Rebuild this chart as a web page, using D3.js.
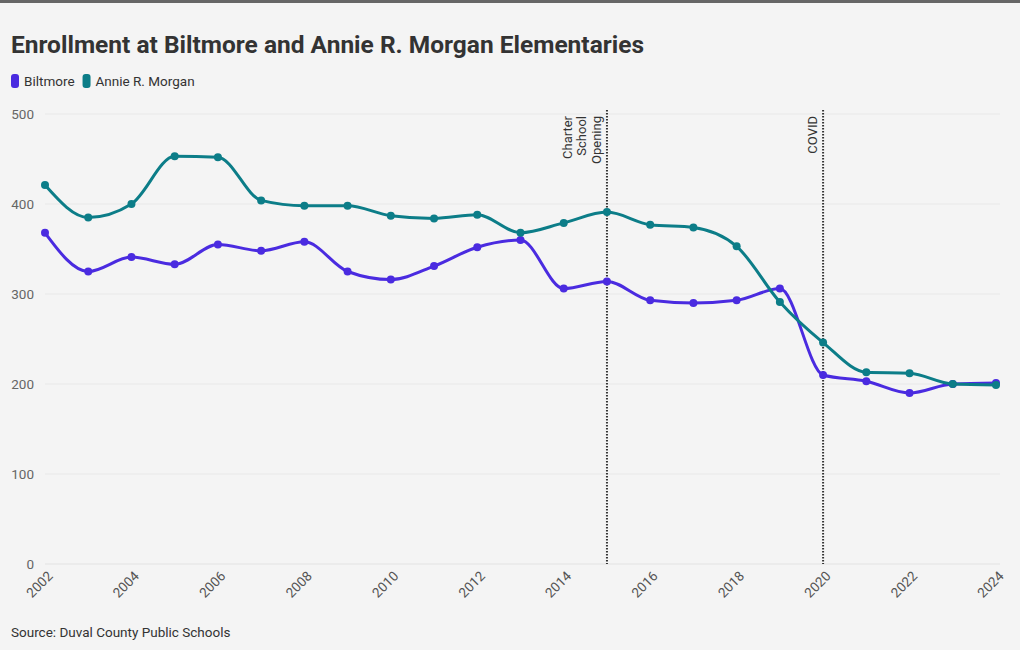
<!DOCTYPE html>
<html><head><meta charset="utf-8">
<script src="https://cdn.jsdelivr.net/npm/d3@7"></script>
<style>
html,body{margin:0;padding:0;background:#f4f4f4;}
svg{display:block;font-family:Roboto,"Noto Sans",sans-serif;}
</style></head>
<body><svg id="c" width="1020" height="650"></svg>
<script>
const years = [2002,2003,2004,2005,2006,2007,2008,2009,2010,2011,2012,2013,2014,2015,2016,2017,2018,2019,2020,2021,2022,2023,2024];
const biltmore = [368,325,341,333,355,348,358,325,316,331,352,360,306,314,293,290,293,306,210,203,190,200,201];
const morgan = [421,385,400,453,452,404,398,398,387,384,388,368,379,391,377,374,353,291,246,213,212,200,199];
const seriesNames = ["Biltmore","Annie R. Morgan"];
const seriesColors = ["#4a2be0","#0c7d88"];
const yTicks = [0,100,200,300,400,500];
const xTicks = [2002,2004,2006,2008,2010,2012,2014,2016,2018,2020,2022,2024];
const events = [{year:2015,lines:["Charter","School","Opening"]},{year:2020,lines:["COVID"]}];

const svg = d3.select("#c");
svg.append("rect").attr("x",0).attr("y",0).attr("width",1020).attr("height",3).attr("fill","#666");

svg.append("text").attr("x",11).attr("y",53).attr("font-size",23).attr("font-weight",700)
  .attr("fill","#333").attr("textLength",633).attr("lengthAdjust","spacingAndGlyphs")
  .text("Enrollment at Biltmore and Annie R. Morgan Elementaries");

// legend
let lx = 11;
seriesNames.forEach((n,i)=>{
  svg.append("rect").attr("x",lx).attr("y",74).attr("width",8).attr("height",14).attr("rx",3).attr("fill",seriesColors[i]);
  const t = svg.append("text").attr("x",lx+13).attr("y",86).attr("font-size",13.5).attr("fill","#333").text(n);
  lx += 13 + t.node().getComputedTextLength() + 8;
});

const x = d3.scaleLinear().domain([2002,2024]).range([45,996]);
const y = d3.scaleLinear().domain([0,500]).range([564,114]);

// grid
const grid = svg.append("g");
grid.selectAll("line").data(yTicks).join("line")
  .attr("x1",45).attr("x2",1000).attr("y1",d=>y(d)).attr("y2",d=>y(d))
  .attr("stroke",d=>d===0?"#e2e2e2":"#e8e8e8").attr("stroke-width",1);

const yAxis = svg.append("g").attr("transform","translate(45,0)")
  .call(d3.axisLeft(y).tickValues(yTicks).tickSize(0).tickPadding(11));
yAxis.select(".domain").remove();
yAxis.selectAll("text").attr("font-size",13.5).attr("fill","#666").attr("font-family","Roboto,sans-serif");

const xAxis = svg.append("g").attr("transform","translate(0,564)")
  .call(d3.axisBottom(x).tickValues(xTicks).tickFormat(d3.format("d")).tickSize(0));
xAxis.select(".domain").remove();
xAxis.selectAll("text").attr("font-size",13.5).attr("fill","#555").attr("font-family","Roboto,sans-serif")
  .attr("text-anchor","end").attr("dy",null).attr("y",0)
  .attr("transform","translate(8,13) rotate(-45)");

// event lines
events.forEach(e=>{
  svg.append("line").attr("x1",x(e.year)).attr("x2",x(e.year)).attr("y1",110).attr("y2",564)
    .attr("stroke","#333").attr("stroke-width",2).attr("stroke-dasharray","1.5,1.5");
  const n = e.lines.length;
  e.lines.forEach((l,i)=>{
    const xx = x(e.year) - 6 - (n-1-i)*14.5;
    svg.append("text").attr("transform",`translate(${xx},116) rotate(-90)`)
      .attr("text-anchor","end").attr("font-size",13).attr("fill","#333").text(l);
  });
});

const line = d3.line().x((d,i)=>x(years[i])).y(d=>y(d)).curve(d3.curveMonotoneX);
[biltmore,morgan].forEach((s,k)=>{
  svg.append("path").datum(s).attr("d",line).attr("fill","none")
    .attr("stroke",seriesColors[k]).attr("stroke-width",3);
  svg.append("g").selectAll("circle").data(s).join("circle")
    .attr("cx",(d,i)=>x(years[i])).attr("cy",d=>y(d)).attr("r",4).attr("fill",seriesColors[k]);
});

svg.append("text").attr("x",11).attr("y",637).attr("font-size",13.5).attr("fill","#333").text("Source: Duval County Public Schools");
</script></body></html>
